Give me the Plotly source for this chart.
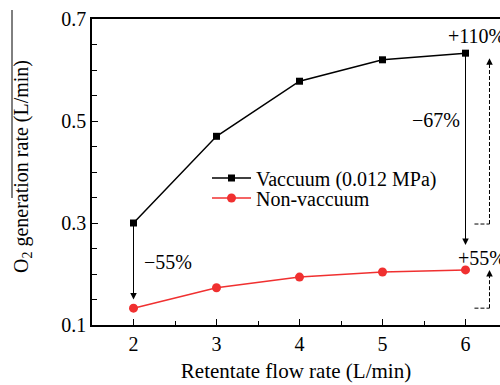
import plotly.graph_objects as go

flow = [2, 3, 4, 5, 6]
vacuum = [0.300, 0.470, 0.578, 0.620, 0.633]
non_vacuum = [0.133, 0.173, 0.194, 0.204, 0.208]

FONT = "Liberation Serif, Times New Roman, serif"
L, T, B, W, H = 92, 19, 60, 500, 385
PW = W - L
PH = H - T - B
XMIN = 1.5
XMAX = 1.5 + PW / 83.0
FS = 20

def py(p):
    return (T + PH - p) / PH

def px(p):
    return (p - L) / PW

fig = go.Figure()
fig.add_trace(go.Scatter(x=flow, y=vacuum, mode="lines+markers", name="Vaccuum (0.012 MPa)",
                         line=dict(color="black", width=1.5),
                         marker=dict(symbol="square", size=7, color="black"),
                         legend="legend"))
fig.add_trace(go.Scatter(x=flow, y=non_vacuum, mode="lines+markers", name="Non-vaccuum",
                         line=dict(color="#f03030", width=1.5),
                         marker=dict(symbol="circle", size=9, color="#f03030"),
                         legend="legend2"))

def arrow(x, y0, y1):
    fig.add_annotation(x=x, y=y1, ax=x, ay=y0, xref="x", yref="y", axref="x", ayref="y",
                       text="", showarrow=True, arrowhead=2, arrowsize=1.3, arrowwidth=1,
                       arrowcolor="black")

arrow(2, 0.300, 0.150)
arrow(6, 0.633, 0.257)

# dashed brackets
xd0, xd1 = 6.108, 6.289
for yb, yt in [(0.298, 0.615), (0.133, 0.200)]:
    fig.add_shape(type="line", x0=xd0, x1=xd1, y0=yb, y1=yb, xref="x", yref="y",
                  line=dict(color="black", width=1, dash="4px,2px"))
    fig.add_shape(type="line", x0=xd1, x1=xd1, y0=yb, y1=yt, xref="x", yref="y",
                  line=dict(color="black", width=1, dash="4px,2px"))
    fig.add_annotation(x=xd1, y=yt + 0.008, ax=xd1, ay=yt - 0.002, xref="x", yref="y",
                       axref="x", ayref="y", text="", showarrow=True, arrowhead=2,
                       arrowsize=1.3, arrowwidth=1, arrowcolor="black")

def label(text, x, y, xanchor="center"):
    fig.add_annotation(x=x, y=y, xref="x", yref="y", text=text, showarrow=False,
                       xanchor=xanchor, yanchor="middle",
                       font=dict(family=FONT, size=FS, color="black"))

label("\u221255%", 2.41, 0.2235)
label("\u221267%", 5.65, 0.502)
label("+110%", 5.76, 0.667, "left")
label("+55%", 5.88, 0.231, "left")

# y-axis title with overline
fig.add_annotation(x=px(23), y=py(167), xref="paper", yref="paper",
                   text="O<sub>2</sub> generation rate (L/min)", showarrow=False,
                   textangle=-90, xanchor="center", yanchor="middle",
                   font=dict(family=FONT, size=20, color="black"))
fig.add_shape(type="line", xref="paper", yref="paper",
              x0=px(12), x1=px(12), y0=py(10), y1=py(198),
              line=dict(color="black", width=1))

leg = dict(xanchor="left", yanchor="middle", bgcolor="rgba(0,0,0,0)",
           font=dict(family=FONT, size=FS, color="black"), itemwidth=39)

fig.update_layout(
    width=W, height=H, margin=dict(l=L, r=0, t=T, b=B, autoexpand=False),
    plot_bgcolor="white", paper_bgcolor="white",
    font=dict(family=FONT, size=FS, color="black"),
    showlegend=True,
    legend=dict(leg, x=px(207), y=py(178)),
    legend2=dict(leg, x=px(207), y=py(198)),
    xaxis=dict(range=[XMIN, XMAX], tickmode="array", tickvals=flow,
               ticks="inside", ticklen=6, tickwidth=1, tickcolor="black",
               minor=dict(tickmode="array", tickvals=[2.5, 3.5, 4.5, 5.5, 6.5], ticks="inside",
                          ticklen=4, tickcolor="black"),
               showline=True, linecolor="black", linewidth=1.5, mirror=True,
               showgrid=False, zeroline=False, automargin=False,
               tickfont=dict(family=FONT, size=FS),
               title=dict(text="Retentate flow rate (L/min)", standoff=10,
                          font=dict(family=FONT, size=21))),
    yaxis=dict(range=[0.1, 0.7], tickmode="array", tickvals=[0.1, 0.3, 0.5, 0.7],
               ticktext=["0.1", "0.3", "0.5", "0.7"],
               ticks="inside", ticklen=6, tickwidth=1, tickcolor="black",
               minor=dict(tickmode="linear", tick0=0.1, dtick=0.05, ticks="inside",
                          ticklen=5, tickcolor="black"),
               showline=True, linecolor="black", linewidth=1.5, mirror=False,
               showgrid=False, zeroline=False, automargin=False,
               tickfont=dict(family=FONT, size=FS)),
)

fig.write_html("out.html")
